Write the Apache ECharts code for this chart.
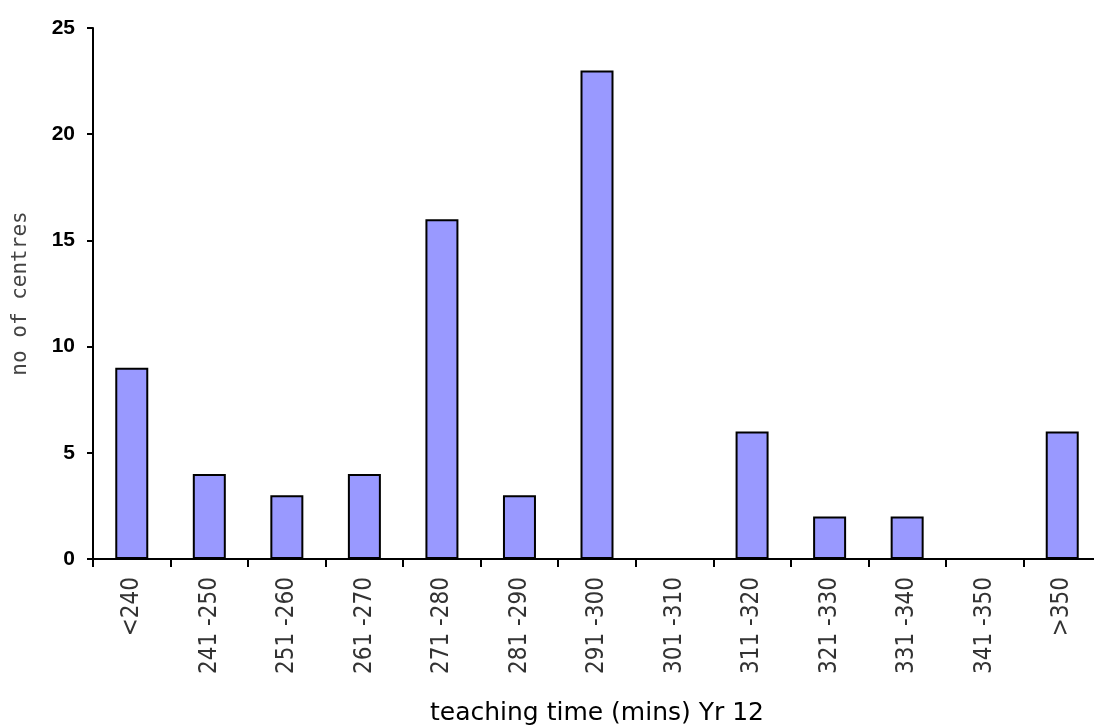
<!DOCTYPE html>
<html><head><meta charset="utf-8">
<script src="https://cdn.jsdelivr.net/npm/echarts@6/dist/echarts.min.js"></script>
<style>html,body{margin:0;padding:0;background:#fff}#c{width:1094px;height:726px}</style>
</head><body><div id="c"></div>
<script>
const categories = ['<240','241 -250','251 -260','261 -270','271 -280','281 -290','291 -300','301 -310','311 -320','321 -330','331 -340','341 -350','>350'];
const centres = [9,4,3,4,16,3,23,0,6,2,2,0,6];
const yTicks = {min:0, max:25, interval:5};

const chart = echarts.init(document.getElementById('c'), null, {renderer:'canvas'});
chart.setOption({
  animation:false,
  grid:{left:93, top:28, bottom:167, width:1008, containLabel:false, outerBoundsMode:'none'},
  xAxis:{
    type:'category', data:categories,
    name:'teaching time (mins) Yr 12', nameLocation:'middle', nameGap:142,
    nameTextStyle:{fontFamily:'DejaVu Sans', fontSize:25, color:'#000'},
    axisLine:{lineStyle:{color:'#000', width:2}},
    axisTick:{show:true, alignWithLabel:false, length:8, lineStyle:{color:'#000', width:2}},
    axisLabel:{rotate:90, margin:18, fontFamily:'DejaVu Sans Condensed, sans-serif', fontSize:24, color:'#333'}
  },
  yAxis:{
    type:'value', min:yTicks.min, max:yTicks.max, interval:yTicks.interval,
    name:'no of centres', nameLocation:'middle', nameGap:62,
    nameTextStyle:{fontFamily:'DejaVu Sans Mono', fontSize:21, color:'#444'},
    axisLine:{show:true, lineStyle:{color:'#000', width:2}},
    axisTick:{show:true, length:6, lineStyle:{color:'#000', width:2}},
    splitLine:{show:false},
    axisLabel:{margin:18, fontFamily:'Liberation Sans, Arial, sans-serif', fontWeight:'bold', fontSize:21, color:'#000'}
  },
  series:[{
    type:'bar', data:centres, barWidth:33,
    itemStyle:{color:'#9999ff', borderColor:'#000', borderWidth:2}
  }]
});
</script></body></html>
